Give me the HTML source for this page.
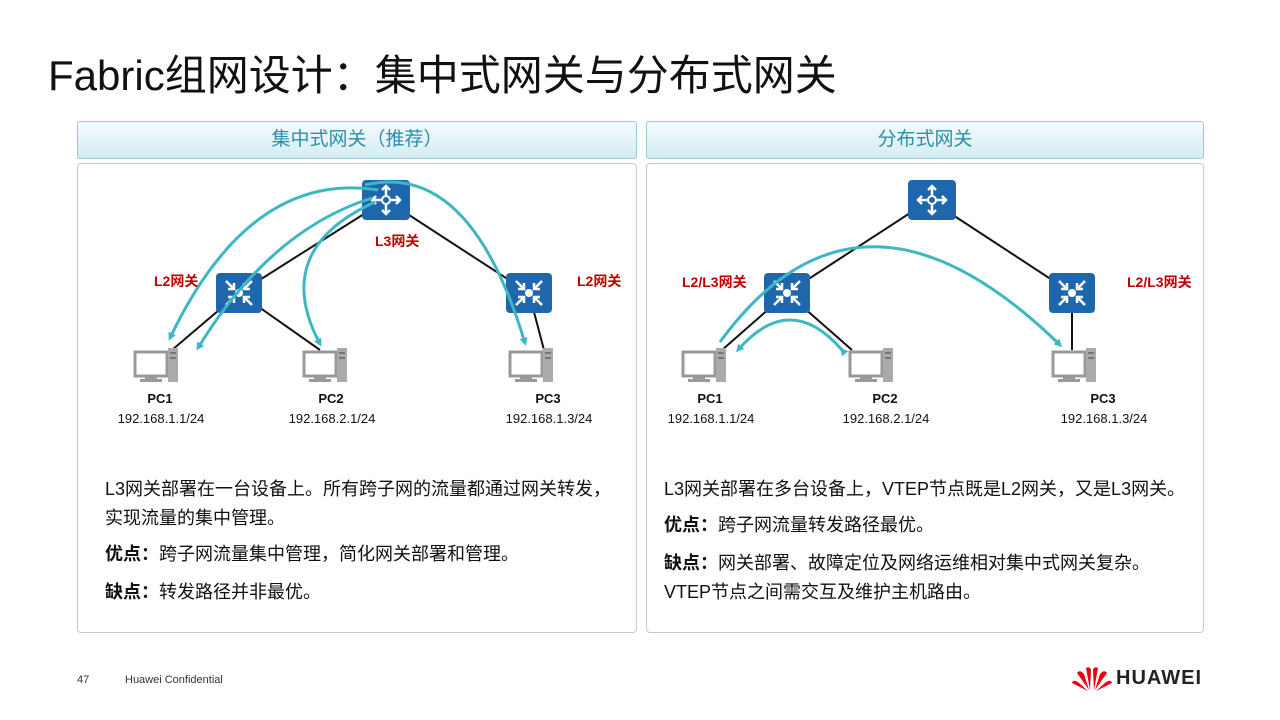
<!DOCTYPE html>
<html><head><meta charset="utf-8"><style>
body{margin:0;width:1280px;height:720px;background:#fff;font-family:"Liberation Sans","Noto Sans CJK SC",sans-serif;position:relative;overflow:hidden}
.t{position:absolute;left:48px;top:42px;font-size:42px;color:#111;white-space:nowrap}
.hd{position:absolute;top:121px;height:36px;border:1px solid #9cc9d6;border-radius:3px;background:linear-gradient(#f4fbfd,#d5ecf3);color:#2a8fa8;font-size:19px;text-align:center;line-height:36px}
.bx{position:absolute;top:163px;height:468px;border:1px solid #c8c8c8;border-radius:4px}
.p{position:absolute;font-size:18px;color:#111;white-space:nowrap}
b{font-weight:bold}
</style></head><body>
<div class="t">Fabric组网设计：集中式网关与分布式网关</div>
<div class="hd" style="left:77px;width:558px">集中式网关（推荐）</div>
<div class="hd" style="left:646px;width:556px">分布式网关</div>
<div class="bx" style="left:77px;width:558px"></div>
<div class="bx" style="left:646px;width:556px"></div>
<svg width="1280" height="720" style="position:absolute;left:0;top:0" font-family="Liberation Sans,Noto Sans CJK SC,sans-serif">
<defs>
<marker id="a" markerWidth="8" markerHeight="8" refX="5" refY="4" orient="auto" markerUnits="userSpaceOnUse"><path d="M0,0 L8,4 L0,8 z" fill="#3db7c4"/></marker>
<g id="pc"><rect x="0" y="4" width="32" height="24" fill="#fff" stroke="#999" stroke-width="3"/><rect x="10" y="28" width="12" height="3" fill="#999"/><rect x="5" y="31" width="22" height="3" fill="#999"/><rect x="33" y="0" width="10" height="34" fill="#aaa"/><rect x="35" y="4" width="6" height="2" fill="#777"/><rect x="35" y="9" width="6" height="2" fill="#777"/></g>
<g id="rt"><rect width="48" height="40" rx="4" fill="#1f67ad"/><g stroke="#fff" stroke-width="2.5" fill="none"><path d="M24 6V34M10 20H38M20 10L24 6L28 10M20 30L24 34L28 30M34 16L38 20L34 24M14 16L10 20L14 24"/></g><circle cx="24" cy="20" r="4" fill="#1f67ad" stroke="#fff" stroke-width="2"/></g>
<g id="sw"><rect width="46" height="40" rx="4" fill="#1f67ad"/><g stroke="#fff" stroke-width="2.5" fill="none"><path d="M10 8L18 16M18 10V16H12M36 8L28 16M28 10V16H34M10 32L18 24M12 24H18V30M36 32L28 24M34 24H28V30"/></g><circle cx="23" cy="20" r="4" fill="#fff"/></g>
</defs>
<g stroke="#111" stroke-width="2">
<line x1="386" y1="200" x2="239" y2="293"/><line x1="386" y1="200" x2="529" y2="293"/>
<line x1="239" y1="293" x2="172" y2="350"/><line x1="239" y1="293" x2="320" y2="350"/><line x1="529" y1="293" x2="544" y2="350"/>
<line x1="930" y1="200" x2="787" y2="293"/><line x1="930" y1="200" x2="1072" y2="293"/>
<line x1="787" y1="293" x2="722" y2="350"/><line x1="787" y1="293" x2="852" y2="350"/><line x1="1072" y1="293" x2="1072" y2="350"/>
</g>
<use href="#rt" x="362" y="180"/><use href="#sw" x="216" y="273"/><use href="#sw" x="506" y="273"/>
<use href="#rt" x="908" y="180"/><use href="#sw" x="764" y="273"/><use href="#sw" x="1049" y="273"/>
<use href="#pc" x="135" y="348"/><use href="#pc" x="304" y="348"/><use href="#pc" x="510" y="348"/>
<use href="#pc" x="683" y="348"/><use href="#pc" x="850" y="348"/><use href="#pc" x="1053" y="348"/>
<g fill="none" stroke="#3db7c4" stroke-width="3" marker-end="url(#a)">
<path d="M378 190 Q250 170 170 338"/>
<path d="M372 198 Q270 230 198 348"/>
<path d="M375 202 Q270 250 320 344"/>
<path d="M365 185 Q470 160 525 343"/>
<path d="M720 342 Q860 150 1060 345"/>
<path d="M842 350 Q790 290 738 350" marker-start="url(#a)"/>
</g>
<g fill="#c00000" font-size="14" font-weight="bold">
<text x="375" y="246">L3网关</text><text x="154" y="286">L2网关</text><text x="577" y="286">L2网关</text>
<text x="682" y="287">L2/L3网关</text><text x="1127" y="287">L2/L3网关</text>
</g>
<g font-size="13" fill="#111" text-anchor="middle">
<text x="160" y="403" font-weight="bold">PC1</text><text x="161" y="423">192.168.1.1/24</text>
<text x="331" y="403" font-weight="bold">PC2</text><text x="332" y="423">192.168.2.1/24</text>
<text x="548" y="403" font-weight="bold">PC3</text><text x="549" y="423">192.168.1.3/24</text>
<text x="710" y="403" font-weight="bold">PC1</text><text x="711" y="423">192.168.1.1/24</text>
<text x="885" y="403" font-weight="bold">PC2</text><text x="886" y="423">192.168.2.1/24</text>
<text x="1103" y="403" font-weight="bold">PC3</text><text x="1104" y="423">192.168.1.3/24</text>
</g>
</svg>
<div class="p" style="left:105px;top:475px">L3网关部署在一台设备上。所有跨子网的流量都通过网关转发，</div>
<div class="p" style="left:105px;top:504px">实现流量的集中管理。</div>
<div class="p" style="left:105px;top:540px"><b>优点：</b>跨子网流量集中管理，简化网关部署和管理。</div>
<div class="p" style="left:105px;top:578px"><b>缺点：</b>转发路径并非最优。</div>
<div class="p" style="left:664px;top:475px">L3网关部署在多台设备上，VTEP节点既是L2网关，又是L3网关。</div>
<div class="p" style="left:664px;top:511px"><b>优点：</b>跨子网流量转发路径最优。</div>
<div class="p" style="left:664px;top:549px"><b>缺点：</b>网关部署、故障定位及网络运维相对集中式网关复杂。</div>
<div class="p" style="left:664px;top:578px">VTEP节点之间需交互及维护主机路由。</div>
<div style="position:absolute;left:77px;top:674px;font-size:11px;color:#333">47</div>
<div style="position:absolute;left:125px;top:674px;font-size:11px;color:#333">Huawei Confidential</div>
<svg width="44" height="28" style="position:absolute;left:1070px;top:664px" viewBox="-22 -26 44 28"><g fill="#e60012"><path d="M-2 0 L-6 -22 Q-2 -24 -1 -20 Z"/><path d="M2 0 L6 -22 Q2 -24 1 -20 Z"/><path d="M-3 0 L-15 -17 Q-12 -21 -8 -16 Z"/><path d="M3 0 L15 -17 Q12 -21 8 -16 Z"/><path d="M-4 1 L-20 -7 Q-19 -11 -14 -8 Z"/><path d="M4 1 L20 -7 Q19 -11 14 -8 Z"/></g></svg>
<div style="position:absolute;left:1116px;top:667px;font-size:20px;font-weight:bold;color:#222;letter-spacing:1px">HUAWEI</div>
</body></html>
